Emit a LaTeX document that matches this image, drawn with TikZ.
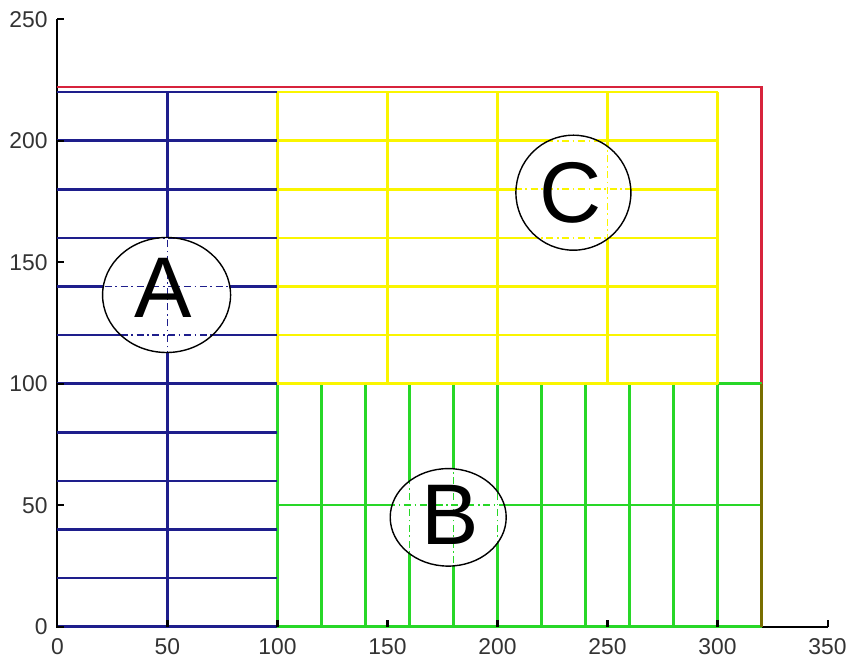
\documentclass[tikz,border=0pt]{standalone}
\usepackage{fontspec}
\setmainfont{Liberation Sans}

\definecolor{regionA}{RGB}{30,30,140}
\definecolor{regionB}{RGB}{40,215,40}
\definecolor{regionC}{RGB}{250,245,0}
\definecolor{framered}{RGB}{215,35,60}
\definecolor{overlap}{RGB}{120,110,0}

\tikzset{
  gridline/.style={line width=1.4pt},
  innerline/.style={line width=1pt, dash pattern=on 4pt off 2pt on 1pt off 2pt},
  axisline/.style={line width=1.2pt, black},
  ticklabel/.style={font=\fontsize{13}{15}\selectfont, text=black!80, inner sep=0pt},
  letter/.style={font=\fontsize{49}{50}\selectfont, inner sep=0pt},
  ring/.style={draw=black, line width=0.8pt}
}

\begin{document}
\begin{tikzpicture}[x=0.044cm, y=0.0486cm]
    \useasboundingbox (-26.1,-13.3) rectangle (360.2,257.9);

    % Axes
    \coordinate (O) at (0,0);
    \coordinate (ytop) at (0,250);
    \coordinate (xend) at (350,0);
    \draw[axisline] (ytop) -- (O) -- (xend);

    % Outer frame
    \draw[draw=framered, gridline] (0,222) -- (320,222) -- (320,0);

    % Region B (green)
    \draw[draw=regionB, gridline] \foreach \y in {0,50,100} {(100,\y) -- (320,\y)};
    \draw[draw=regionB, gridline] \foreach \x in {100,120,...,300} {(\x,0) -- (\x,100)};
    \draw[draw=overlap, gridline] (320,0) -- (320,100);

    % Region C (yellow)
    \draw[draw=regionC, gridline] \foreach \y in {100,120,...,220} {(100,\y) -- (300,\y)};
    \draw[draw=regionC, gridline] \foreach \x in {100,150,...,300} {(\x,100) -- (\x,220)};

    % Region A (blue)
    \draw[draw=regionA, gridline] \foreach \y in {0,20,...,220} {(0,\y) -- (100,\y)};
    \draw[draw=regionA, gridline] (50,0) -- (50,220);

    % Ticks and tick labels
    \foreach \x in {0,50,...,350} {
        \draw[axisline] (\x,0) -- (\x,2.9);
        \node[ticklabel, anchor=north, yshift=-0.22cm] (xlab\x) at (\x,0) {\x};
    }
    \foreach \y in {0,50,...,250} {
        \draw[axisline] (0,\y) -- (3.2,\y);
        \node[ticklabel, anchor=east, xshift=-0.19cm] (ylab\y) at (0,\y) {\y};
    }

    % Labels A, B, C
    \coordinate (cA) at (49.6,136.5);
    \coordinate (cB) at (177.6,45);
    \coordinate (cC) at (234.5,178.6);

    \fill[white] (cA) ellipse [x radius=1.28cm, y radius=1.15cm];
    \begin{scope}
        \clip (cA) ellipse [x radius=1.28cm, y radius=1.15cm];
        \draw[draw=regionA, innerline] \foreach \y in {120,140,160} {(0,\y) -- (100,\y)};
        \draw[draw=regionA, innerline] (50,0) -- (50,220);
    \end{scope}
    \draw[ring] (cA) ellipse [x radius=1.28cm, y radius=1.15cm];

    \fill[white] (cB) ellipse [x radius=1.16cm, y radius=0.975cm];
    \begin{scope}
        \clip (cB) ellipse [x radius=1.16cm, y radius=0.975cm];
        \draw[draw=regionB, innerline] (100,50) -- (320,50);
        \draw[draw=regionB, innerline] \foreach \x in {140,160,...,220} {(\x,0) -- (\x,100)};
    \end{scope}
    \draw[ring] (cB) ellipse [x radius=1.16cm, y radius=0.975cm];

    \fill[white] (cC) ellipse [x radius=1.15cm, y radius=1.15cm];
    \begin{scope}
        \clip (cC) ellipse [x radius=1.15cm, y radius=1.15cm];
        \draw[draw=regionC, innerline] \foreach \y in {160,180,200} {(100,\y) -- (300,\y)};
        \draw[draw=regionC, innerline] \foreach \x in {200,250} {(\x,100) -- (\x,220)};
    \end{scope}
    \draw[ring] (cC) ellipse [x radius=1.15cm, y radius=1.15cm];

    \node[letter] (A) at (48.1,139.4) {A};
    \node[letter] (B) at (178.4,46) {B};
    \node[letter] (C) at (233,178.6) {C};
\end{tikzpicture}
\end{document}
